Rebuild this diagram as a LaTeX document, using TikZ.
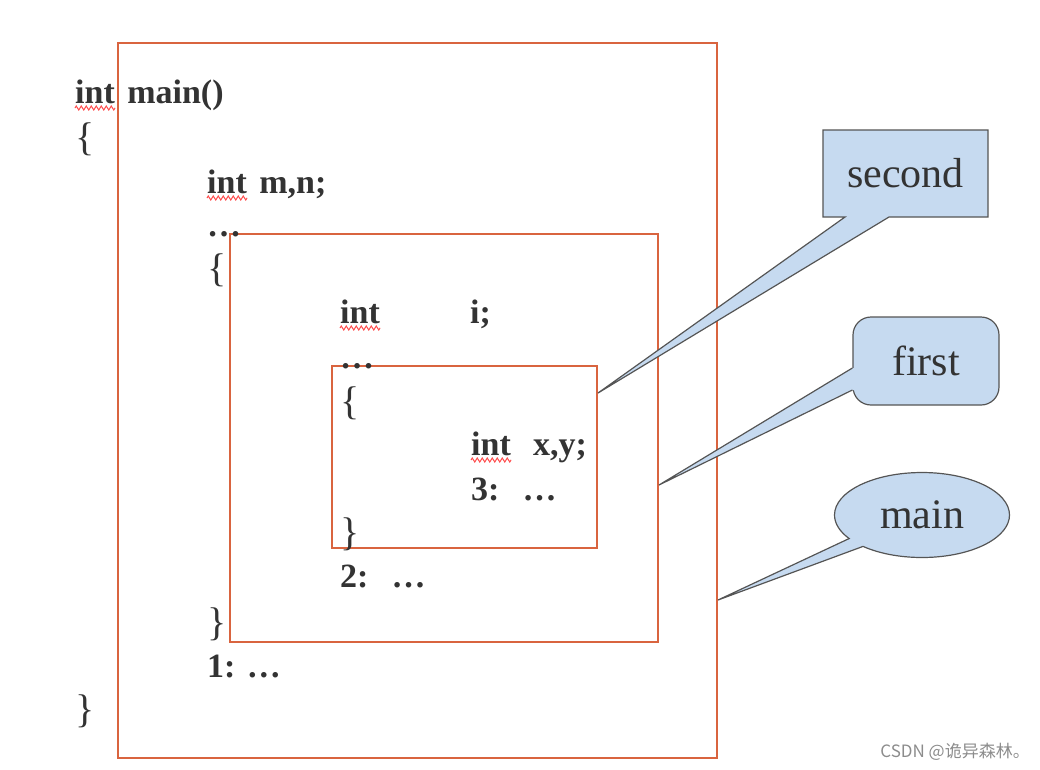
\documentclass[tikz,border=0pt]{standalone}
\usepackage{fontspec}
\setmainfont{Liberation Serif}
\newfontfamily\cjkfont{Noto Sans CJK SC}
\usetikzlibrary{shapes.callouts,shapes.geometric,decorations.pathmorphing,positioning}
\definecolor{boxred}{HTML}{D9643F}
\definecolor{ink}{HTML}{333333}
\definecolor{callfill}{HTML}{C6DAF0}
\definecolor{callline}{HTML}{555555}

\begin{document}
\begin{tikzpicture}[x=1pt,y=-1pt,
  scopebox/.style={draw=boxred,line width=2pt,inner sep=0pt,anchor=north west},
  code/.style={font=\fontsize{34}{40}\selectfont\bfseries,text=ink,inner sep=0pt,anchor=base west},
  brace/.style={code,font=\fontsize{40}{44}\selectfont},
  tag/.style={fill=callfill,draw=callline,line width=1.2pt,font=\fontsize{42}{48}\selectfont,text=ink},
  squiggle/.style={draw=red!70,line width=1pt,decorate,decoration={zigzag,amplitude=2pt,segment length=5pt}}]
\useasboundingbox (0,0) rectangle (1040,769);
% scopes
\node[scopebox,minimum width=599pt,minimum height=715pt] (mainbox) at (117,42) {};
\node[scopebox,minimum width=428pt,minimum height=408pt] (midbox) at (229,233) {};
\node[scopebox,minimum width=265pt,minimum height=182pt] (inbox) at (331,365) {};
% code
\node[code] (i1) at (75,103) {int};
\node[code] (m1) at ([xshift=12pt]i1.base east) {main()};
\node[brace] (b1) at (75,150) {\{};
\node[code] (i2) at (207,193) {int};
\node[code] (m2) at ([xshift=12pt]i2.base east) {m,n;};
\node[code] (d2) at (207,236) {\ldots};
\node[brace] (b2) at (207,281) {\{};
\node[code] (i3) at (340,323) {int};
\node[code] (m3) at (470,323) {i;};
\node[code] (d3) at (340,368) {\ldots};
\node[brace] (b3) at (340,414) {\{};
\node[code] (i4) at (471,455) {int};
\node[code] (m4) at (533,455) {x,y;};
\node[code] (l3) at (471,500) {3:\hspace{23pt}\ldots};
\node[brace] (e3) at (340,545) {\}};
\node[code] (l2) at (340,587) {2:\hspace{23pt}\ldots};
\node[brace] (e2) at (207,635) {\}};
\node[code] (l1) at (207,677) {1: \ldots};
\node[brace] (e1) at (75,722) {\}};
\foreach \w in {i1,i2,i3,i4}
  \draw[squiggle] ([yshift=-5pt]\w.base west) -- ([yshift=-5pt]\w.base east);
% labels
\node[tag,rectangle callout,minimum width=165pt,minimum height=87pt,
  callout absolute pointer={([yshift=-28pt]inbox.north east)},callout pointer width=44pt] (second) at (905.5,173.5) {second};
\node[tag,rounded corners=18pt,minimum width=146pt,minimum height=88pt] (first) at (926,361) {first};
\coordinate (firsttip) at ([yshift=-252pt]midbox.north east);
\fill[callfill] ([xshift=3pt,yshift=-7pt]first.west) -- ([yshift=-7pt]first.west) -- (firsttip)
  -- ([yshift=-29pt]first.west) -- ([xshift=3pt,yshift=-29pt]first.west) -- cycle;
\draw[callline,line width=1.2pt] ([yshift=-7pt]first.west) -- (firsttip) -- ([yshift=-29pt]first.west);
\node[tag,ellipse callout,minimum width=175pt,minimum height=85pt,
  callout absolute pointer={([yshift=-558pt]mainbox.north east)},callout pointer arc=14] (mainlbl) at (922,515) {main};
% watermark
\node[anchor=base east,inner sep=0pt,text=black!45,font=\fontsize{17}{20}\selectfont\cjkfont] (mark) at (1030,757) {CSDN @诡异森林。};
\end{tikzpicture}
\end{document}
